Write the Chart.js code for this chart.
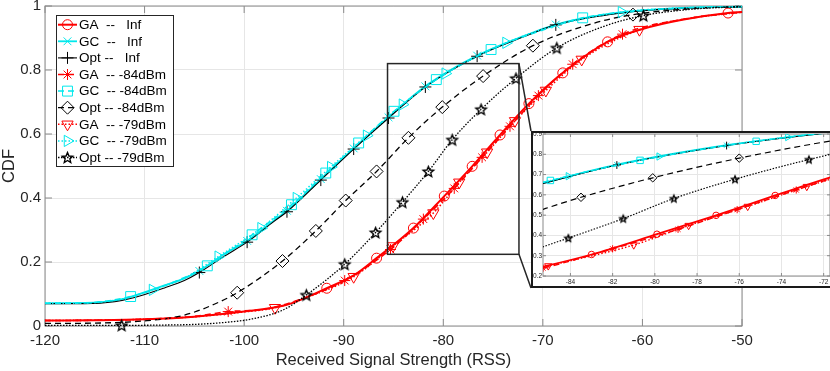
<!DOCTYPE html>
<html>
<head>
<meta charset="utf-8">
<script src="https://cdn.jsdelivr.net/npm/chart.js@4.4.0/dist/chart.umd.min.js"></script>
<style>
html, body { margin: 0; padding: 0; background: #fff; overflow: hidden; width: 830px; height: 371px; }
#wrap { position: relative; width: 830px; height: 371px; }
#main { position: absolute; left: 0; top: 0; }
#inset { position: absolute; left: 531px; top: 131px; width: 300px; height: 153px; border: 2px solid #1a1a1a; background: #fff; }
#insetChart { display: block; }
</style>
</head>
<body>
<div id="wrap">
  <canvas id="main" width="830" height="371"></canvas>
  <div id="inset"><canvas id="insetChart" width="300" height="153"></canvas></div>
</div>
<script>
// tick labels
const xTicks = [-120, -110, -100, -90, -80, -70, -60, -50];
const yTicks = [0, 0.2, 0.4, 0.6, 0.8, 1];
const insetXTicks = [-84, -82, -80, -78, -76, -74, -72];
const insetYTicks = [0.2, 0.3, 0.4, 0.5, 0.6, 0.7, 0.8, 0.9];

const labels = ['GA  --   Inf', 'GC  --   Inf', 'Opt --   Inf',
                'GA  -- -84dBm', 'GC  -- -84dBm', 'Opt -- -84dBm',
                'GA  -- -79dBm', 'GC  -- -79dBm', 'Opt -- -79dBm'];

// curves (x = RSS, y = CDF), Mk = x where a marker sits
const gaInfX = [-120, -115, -110, -105, -100, -96, -94, -91.7, -89, -86.7, -83.0, -79.9, -77.1, -74.3, -71.4, -68.0, -63.5, -60, -56, -51.4, -50];
const gaInfY = [0.017, 0.018, 0.021, 0.029, 0.045, 0.064, 0.086, 0.118, 0.158, 0.212, 0.306, 0.406, 0.499, 0.597, 0.695, 0.791, 0.888, 0.928, 0.957, 0.978, 0.981];
const gaInfMk = [-91.7, -86.7, -83.0, -79.9, -77.1, -74.3, -71.4, -68.0, -63.5, -51.4];

const gcInfX = [-120, -116, -113, -111, -108, -106, -104.5, -102, -99.7, -97, -95.7, -92.3, -89.0, -85.5, -81.8, -76.6, -72, -68.7, -64, -60, -55, -50];
const gcInfY = [0.071, 0.072, 0.079, 0.095, 0.127, 0.149, 0.172, 0.225, 0.266, 0.33, 0.36, 0.459, 0.555, 0.652, 0.749, 0.845, 0.905, 0.942, 0.972, 0.986, 0.995, 0.998];
const gcInfMk = [-104.5, -99.7, -95.7, -92.3, -89.0, -85.5, -81.8, -76.6, -68.7];

const optInfX = [-120, -116, -113, -111, -108, -106, -104.5, -102, -99.7, -97, -95.7, -92.3, -89.0, -85.5, -81.8, -76.6, -72, -68.7, -64, -60, -55, -50];
const optInfY = [0.070, 0.070, 0.076, 0.089, 0.119, 0.142, 0.167, 0.218, 0.262, 0.327, 0.357, 0.456, 0.553, 0.650, 0.747, 0.843, 0.903, 0.941, 0.970, 0.985, 0.994, 0.997];
const optInfMk = [-104.5, -99.7, -95.7, -92.3, -89.0, -85.5, -81.8, -76.6, -68.7];

const ga84X = [-120, -115, -110, -105, -101.6, -98, -94, -89.9, -85.3, -82.0, -78.9, -76.1, -73.3, -70.45, -67.0, -62.0, -56, -50];
const ga84Y = [0.017, 0.018, 0.021, 0.030, 0.045, 0.052, 0.087, 0.142, 0.239, 0.334, 0.430, 0.527, 0.624, 0.720, 0.818, 0.912, 0.958, 0.981];
const ga84Mk = [-101.6, -89.9, -85.3, -82.0, -78.9, -76.1, -73.3, -70.45, -67.0, -62.0];

const gc84X = [-120, -116, -111.4, -108, -103.7, -99.2, -95.25, -91.8, -88.5, -84.95, -80.7, -75.2, -70, -66.0, -60, -55, -50];
const gc84Y = [0.071, 0.072, 0.092, 0.126, 0.188, 0.285, 0.379, 0.478, 0.572, 0.671, 0.770, 0.864, 0.925, 0.963, 0.986, 0.995, 0.998];
const gc84Mk = [-111.4, -103.7, -99.2, -95.25, -91.8, -88.5, -84.95, -80.7, -75.2, -66.0];

const opt84X = [-120, -115, -110, -106, -103, -100.7, -96.15, -92.8, -89.8, -86.7, -83.5, -80.1, -76.0, -71.0, -65, -60.95, -55, -50];
const opt84Y = [0.008, 0.009, 0.016, 0.034, 0.068, 0.104, 0.203, 0.297, 0.392, 0.483, 0.588, 0.684, 0.781, 0.876, 0.945, 0.973, 0.992, 0.999];
const opt84Mk = [-100.7, -96.15, -92.8, -89.8, -86.7, -83.5, -80.1, -76.0, -71.0, -60.95];

const ga79X = [-120, -115, -110, -105, -100, -96.9, -94, -89.0, -85.05, -81.0, -78.4, -75.6, -72.8, -69.7, -66.1, -60.3, -55, -50];
const ga79Y = [0.017, 0.018, 0.021, 0.029, 0.044, 0.057, 0.086, 0.154, 0.250, 0.353, 0.449, 0.543, 0.641, 0.736, 0.833, 0.926, 0.963, 0.981];
const ga79Mk = [-96.9, -89.0, -85.05, -81.0, -78.4, -75.6, -72.8, -69.7, -66.1, -60.3];

const gc79X = [-120, -116, -112, -109.2, -106, -102.6, -98.3, -94.75, -91.3, -87.7, -84.1, -79.8, -73.7, -68, -62.1, -56, -50];
const gc79Y = [0.071, 0.072, 0.086, 0.113, 0.149, 0.217, 0.306, 0.400, 0.497, 0.595, 0.692, 0.789, 0.885, 0.945, 0.981, 0.994, 0.998];
const gc79Mk = [-109.2, -102.6, -98.3, -94.75, -91.3, -87.7, -84.1, -79.8, -73.7, -62.1];

const opt79X = [-120, -112.3, -108, -105, -102, -99.4, -96.1, -93.75, -89.9, -86.8, -84.1, -81.5, -79.1, -76.2, -72.7, -68.6, -64, -59.9, -55, -50];
const opt79Y = [0.002, 0.002, 0.003, 0.005, 0.011, 0.021, 0.050, 0.097, 0.193, 0.292, 0.387, 0.483, 0.582, 0.677, 0.774, 0.869, 0.935, 0.970, 0.990, 0.998];
const opt79Mk = [-112.3, -93.75, -89.9, -86.8, -84.1, -81.5, -79.1, -76.2, -72.7, -68.6, -59.9];

// zoom rectangle on the main axes (data units)
const boxX = [-85.6, -72.4];
const boxY = [0.224, 0.82];

const RED = 'rgb(255,0,0)';
const CYAN = 'rgb(0,232,236)';
const BLACK = '#000000';
const FONT = '"Liberation Sans", Arial, Helvetica, sans-serif';

// MATLAB 'p' marker (outline five point star)
function pentagram(R, color) {
    const c = document.createElement('canvas');
    const s = Math.ceil(2 * R + 4);
    c.width = s; c.height = s;
    const g = c.getContext('2d');
    g.translate(s / 2, s / 2 + R * 0.1);
    g.beginPath();
    for (let i = 0; i < 10; i++) {
        const rr = i % 2 ? R * 0.45 : R;
        const a = -Math.PI / 2 + i * Math.PI / 5;
        g.lineTo(rr * Math.cos(a), rr * Math.sin(a));
    }
    g.closePath();
    g.strokeStyle = color;
    g.lineWidth = 1.4;
    g.lineJoin = 'miter';
    g.stroke();
    return c;
}

const series = [
    {label: labels[0], x: gaInfX,  y: gaInfY,  m: gaInfMk,  color: RED,   width: 2,   dash: [],       style: 'circle',   rot: 0,   r: 5},
    {label: labels[1], x: gcInfX,  y: gcInfY,  m: gcInfMk,  color: CYAN,  width: 1.8, dash: [],       style: 'crossRot', rot: 0,   r: 5.5},
    {label: labels[2], x: optInfX, y: optInfY, m: optInfMk, color: BLACK, width: 1.1, dash: [],       style: 'cross',    rot: 0,   r: 6},
    {label: labels[3], x: ga84X,   y: ga84Y,   m: ga84Mk,   color: RED,   width: 1.6, dash: [6, 4],   style: 'star',     rot: 0,   r: 5.5},
    {label: labels[4], x: gc84X,   y: gc84Y,   m: gc84Mk,   color: CYAN,  width: 1.5, dash: [6, 4],   style: 'rect',     rot: 0,   r: 7},
    {label: labels[5], x: opt84X,  y: opt84Y,  m: opt84Mk,  color: BLACK, width: 1.3, dash: [6, 4],   style: 'rectRot',  rot: 0,   r: 6.5},
    {label: labels[6], x: ga79X,   y: ga79Y,   m: ga79Mk,   color: RED,   width: 1.6, dash: [1.5, 2], style: 'triangle', rot: 180, r: 6.5},
    {label: labels[7], x: gc79X,   y: gc79Y,   m: gc79Mk,   color: CYAN,  width: 1.5, dash: [1.5, 2], style: 'triangle', rot: 90,  r: 6.5},
    {label: labels[8], x: opt79X,  y: opt79Y,  m: opt79Mk,  color: BLACK, width: 1.3, dash: [1.5, 1.5], style: 'pent',  rot: 0,   r: 5.5}
];

function buildSets(k, clip) {
    return series.map((s, i) => {
        const pstyle = s.style === 'pent' ? pentagram(s.r * k, s.color) : s.style;
        return {
            label: s.label,
            data: s.x.map((v, j) => ({x: v, y: s.y[j]})),
            borderColor: s.color,
            borderWidth: k < 1 ? Math.max(1, s.width * 0.9) : s.width,
            borderDash: s.dash,
            pointStyle: pstyle,
            pointRotation: s.rot,
            pointRadius: ctx => s.m.includes(s.x[ctx.dataIndex]) ? s.r * k : 0,
            pointHoverRadius: 0,
            pointBorderColor: s.color,
            pointBackgroundColor: 'rgba(0,0,0,0)',
            pointBorderWidth: 1,
            cubicInterpolationMode: 'monotone',
            fill: false,
            order: series.length - i,
            clip: clip
        };
    });
}

// box round the axes with MATLAB style inward ticks
const framePlugin = {
    id: 'frame',
    beforeDatasetsDraw(chart, args, opts) {
        const {ctx, chartArea: a, scales} = chart;
        const L = opts.len;
        ctx.save();
        ctx.strokeStyle = '#8a8a8a';
        ctx.lineWidth = 1;
        ctx.strokeRect(a.left, a.top, a.right - a.left, a.bottom - a.top);
        ctx.beginPath();
        scales.x.ticks.forEach(t => {
            const p = scales.x.getPixelForValue(t.value);
            ctx.moveTo(p, a.bottom); ctx.lineTo(p, a.bottom - L);
            ctx.moveTo(p, a.top); ctx.lineTo(p, a.top + L);
        });
        scales.y.ticks.forEach(t => {
            const p = scales.y.getPixelForValue(t.value);
            ctx.moveTo(a.left, p); ctx.lineTo(a.left + L, p);
            ctx.moveTo(a.right, p); ctx.lineTo(a.right - L, p);
        });
        ctx.stroke();
        ctx.restore();
    }
};

const zoomBoxPlugin = {
    id: 'zoomBox',
    afterDatasetsDraw(chart) {
        const {ctx, scales: {x, y}} = chart;
        const l = x.getPixelForValue(boxX[0]), r = x.getPixelForValue(boxX[1]);
        const t = y.getPixelForValue(boxY[1]), b = y.getPixelForValue(boxY[0]);
        const el = document.getElementById('inset');
        const ix = el.offsetLeft, iy = el.offsetTop, ih = el.offsetHeight;
        ctx.save();
        ctx.strokeStyle = '#262626';
        ctx.lineWidth = 1.5;
        ctx.strokeRect(l, t, r - l, b - t);
        ctx.beginPath();
        ctx.moveTo(r, t); ctx.lineTo(ix, iy);
        ctx.moveTo(r, b); ctx.lineTo(ix, iy + ih);
        ctx.stroke();
        ctx.restore();
    }
};

const legendPlugin = {
    id: 'boxLegend',
    afterDraw(chart) {
        const c = chart.ctx;
        c.save();
        c.fillStyle = '#fff';
        c.fillRect(56, 15, 117, 151);
        c.strokeStyle = '#262626';
        c.lineWidth = 1;
        c.strokeRect(56.5, 15.5, 117, 151);
        series.forEach((s, i) => {
            const y = 24.7 + i * 16.6;
            c.strokeStyle = s.color;
            c.lineWidth = s.width;
            c.setLineDash(s.dash);
            c.beginPath(); c.moveTo(58, y); c.lineTo(77, y); c.stroke();
            c.setLineDash([]);
            c.lineWidth = 1;
            c.fillStyle = 'rgba(0,0,0,0)';
            const ps = s.style === 'pent' ? pentagram(s.r, s.color) : s.style;
            Chart.helpers.drawPoint(c, {pointStyle: ps, rotation: s.rot, radius: s.r, borderWidth: 1}, 67.5, y);
            c.fillStyle = '#000';
            c.font = '13.5px ' + FONT;
            c.textBaseline = 'middle';
            c.textAlign = 'left';
            c.fillText(s.label, 79, y + 0.5);
        });
        c.restore();
    }
};

function fixTicks(list) {
    return scale => { scale.ticks = list.map(v => ({value: v})); };
}

new Chart(document.getElementById('main'), {
    type: 'line',
    data: {datasets: buildSets(1, false)},
    options: {
        responsive: false,
        animation: false,
        events: [],
        layout: {padding: {top: 6, right: 88, left: 0, bottom: 0}},
        plugins: {legend: {display: false}, tooltip: {enabled: false}, frame: {len: 7}},
        scales: {
            x: {
                type: 'linear', min: -120, max: -50,
                afterBuildTicks: fixTicks(xTicks),
                afterFit: s => { s.height = 45; s.paddingLeft = 0; s.paddingRight = 0; },
                grid: {color: '#e6e6e6', drawTicks: false},
                border: {display: false},
                ticks: {color: '#262626', font: {family: FONT, size: 15}, padding: 6, maxRotation: 0, callback: v => String(v)},
                title: {display: true, text: 'Received Signal Strength (RSS)', color: '#262626', font: {family: FONT, size: 16.5}, padding: {top: 0, bottom: 1}}
            },
            y: {
                type: 'linear', min: 0, max: 1,
                afterBuildTicks: fixTicks(yTicks),
                afterFit: s => { s.width = 45; s.paddingTop = 0; s.paddingBottom = 0; },
                grid: {color: '#e6e6e6', drawTicks: false},
                border: {display: false},
                ticks: {color: '#262626', font: {family: FONT, size: 15}, padding: 4, callback: v => String(v)},
                title: {display: true, text: 'CDF', color: '#262626', font: {family: FONT, size: 16.5}, padding: {top: 0, bottom: 0}}
            }
        }
    },
    plugins: [framePlugin, zoomBoxPlugin, legendPlugin]
});

new Chart(document.getElementById('insetChart'), {
    type: 'line',
    data: {datasets: buildSets(0.65, undefined)},
    options: {
        responsive: false,
        animation: false,
        events: [],
        layout: {padding: {top: 1, right: 3, left: 0, bottom: 0}},
        plugins: {legend: {display: false}, tooltip: {enabled: false}, frame: {len: 3}},
        scales: {
            x: {
                type: 'linear', min: -85.3, max: -71.7,
                afterBuildTicks: fixTicks(insetXTicks),
                afterFit: s => { s.height = 10; s.paddingLeft = 0; s.paddingRight = 0; },
                grid: {color: '#e6e6e6', drawTicks: false},
                border: {display: false},
                ticks: {color: '#262626', font: {family: FONT, size: 6.5}, padding: 2, maxRotation: 0, callback: v => String(v)},
                title: {display: false}
            },
            y: {
                type: 'linear', min: 0.2, max: 0.9,
                afterBuildTicks: fixTicks(insetYTicks),
                afterFit: s => { s.width = 10; s.paddingTop = 0; s.paddingBottom = 0; },
                grid: {color: '#e6e6e6', drawTicks: false},
                border: {display: false},
                ticks: {color: '#262626', font: {family: FONT, size: 6.5}, padding: 1, callback: v => String(v)},
                title: {display: false}
            }
        }
    },
    plugins: [framePlugin]
});
</script>
</body>
</html>
